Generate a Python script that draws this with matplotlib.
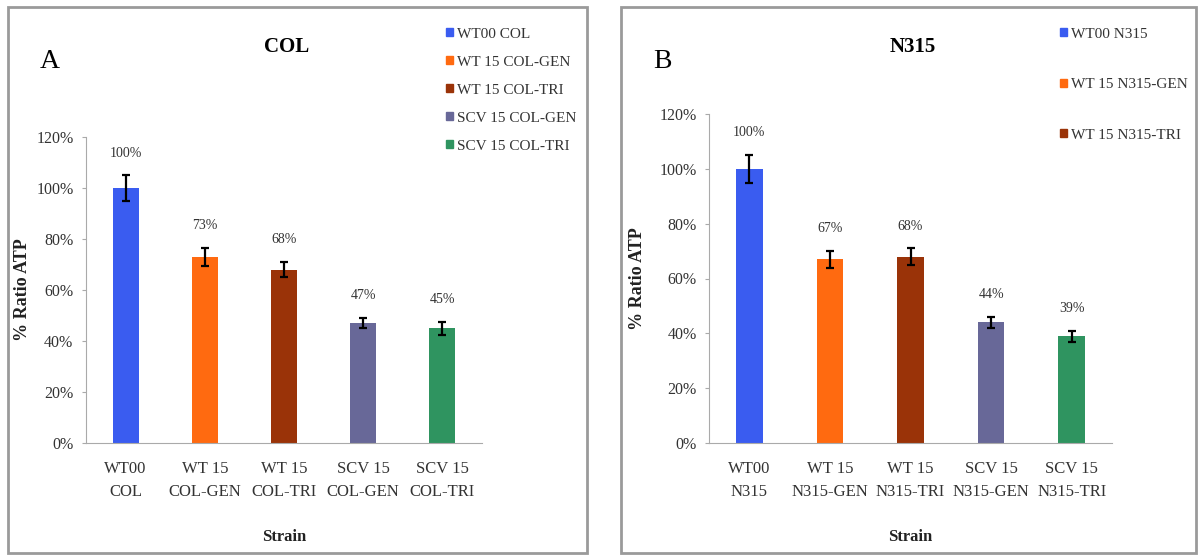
import matplotlib.pyplot as plt
from matplotlib.patches import Patch, Rectangle
from matplotlib.ticker import PercentFormatter

plt.rcParams['font.family'] = ['Liberation Serif', 'DejaVu Serif']

# Panel A (COL)
col_ticks = ['WT00\nCOL', 'WT 15\nCOL-GEN', 'WT 15\nCOL-TRI', 'SCV 15\nCOL-GEN', 'SCV 15\nCOL-TRI']
col_legend = ['WT00 COL', 'WT 15 COL-GEN', 'WT 15 COL-TRI', 'SCV 15 COL-GEN', 'SCV 15 COL-TRI']
col_values = [100, 73, 68, 47, 45]
col_errors = [5, 3.5, 3, 2, 2.5]

# Panel B (N315)
n315_ticks = ['WT00\nN315', 'WT 15\nN315-GEN', 'WT 15\nN315-TRI', 'SCV 15\nN315-GEN', 'SCV 15\nN315-TRI']
n315_legend = ['WT00 N315', 'WT 15 N315-GEN', 'WT 15 N315-TRI']
n315_values = [100, 67, 68, 44, 39]
n315_errors = [5, 3, 3, 2, 2]

colors = ['#3a5cf0', '#ff6a10', '#9a3308', '#686898', '#2f9460']

W, H = 1200, 556
fig = plt.figure(figsize=(W / 100, H / 100), dpi=100)

# grey frames around each panel (pixel boxes)
for x0, x1 in [(8, 587), (621, 1196)]:
    fig.patches.append(Rectangle((x0 / W, 1 - 553 / H), (x1 - x0) / W, (553 - 7) / H,
                                 transform=fig.transFigure, fill=False,
                                 edgecolor='#9a9a9a', linewidth=2))


def px_rect(x0, x1, ytop, ybot):
    return [x0 / W, 1 - ybot / H, (x1 - x0) / W, (ybot - ytop) / H]


def panel(rect, ticks, values, errors, title, letter, legend_labels,
          legend_xy, spacing, title_x, letter_x, ylabel_x):
    ax = fig.add_axes(rect)
    x = range(len(values))
    ax.bar(x, values, width=0.33, color=colors)
    ax.errorbar(x, values, yerr=errors, fmt='none', ecolor='black',
                elinewidth=1.6, capsize=3, capthick=1.6)
    for xi, v, e in zip(x, values, errors):
        ax.annotate(f'{v}%', (xi, v + e), xytext=(0, 16), textcoords='offset points',
                    ha='center', va='center', fontsize=10, color='#333333')
    ax.set_ylim(0, 120)
    ax.set_xlim(-0.5, 4.5)
    ax.set_yticks(range(0, 121, 20))
    ax.yaxis.set_major_formatter(PercentFormatter(decimals=0))
    ax.set_xticks(list(x))
    ax.set_xticklabels(ticks, fontsize=12, color='#333333', linespacing=1.6)
    ax.tick_params(axis='y', labelsize=11.5, labelcolor='#333333', length=3,
                   color='#aaaaaa', pad=6)
    ax.tick_params(axis='x', length=0, pad=13)
    for s in ['top', 'right']:
        ax.spines[s].set_visible(False)
    ax.spines['left'].set_color('#aaaaaa')
    ax.spines['bottom'].set_color('#aaaaaa')
    ax.set_xlabel('Strain', fontsize=12, fontweight='bold', labelpad=21, color='#222222')
    ax.set_ylabel('% Ratio ATP', fontsize=13, fontweight='bold', color='#222222')
    ax.yaxis.set_label_coords(ylabel_x, 0.5)
    fig.text(title_x / W, 1 - 47 / H, title, fontsize=15, fontweight='bold',
             ha='center', va='center')
    fig.text(letter_x / W, 1 - 62 / H, letter, fontsize=20, ha='center', va='center')
    handles = [Patch(color=c) for c in colors[:len(legend_labels)]]
    fig.legend(handles, legend_labels, loc='upper left',
               bbox_to_anchor=(legend_xy[0] / W, 1 - legend_xy[1] / H),
               frameon=False, fontsize=11, handlelength=0.45, handleheight=0.45,
               handletextpad=0.3, labelspacing=spacing, borderpad=0,
               labelcolor='#333333')
    return ax


panel(px_rect(86, 482, 137, 443), col_ticks, col_values, col_errors, 'COL', 'A',
      col_legend, (438, 20), 0.98, 287, 50, -0.139)
panel(px_rect(709, 1112, 114, 443), n315_ticks, n315_values, n315_errors, 'N315', 'B',
      n315_legend, (1052, 20), 2.46, 913, 662, -0.156)

fig.savefig('out.png', dpi=100)
